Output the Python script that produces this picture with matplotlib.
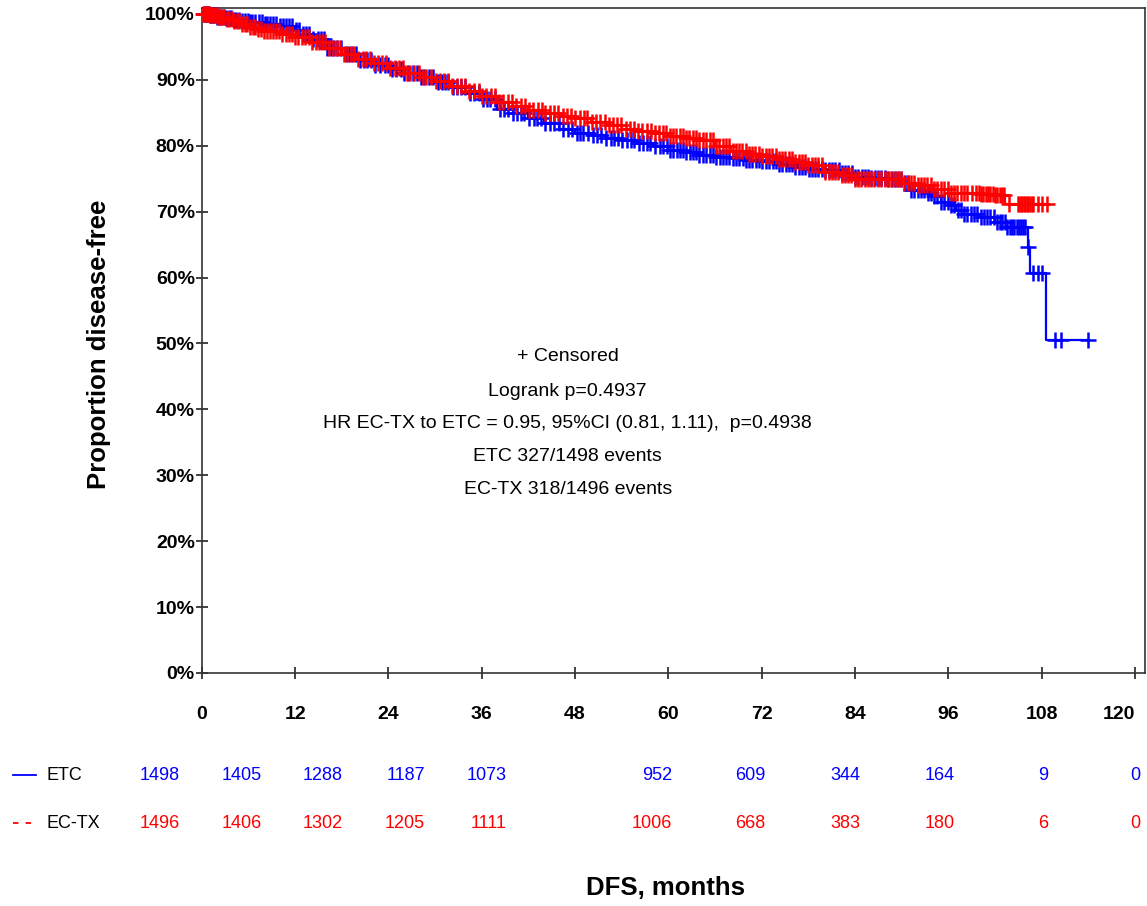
#  IMPORTS
# --------------------------------------------------------------
import numpy as np
import matplotlib
matplotlib.use("Agg")
import matplotlib.pyplot as plt

plt.rcParams['font.family'] = ['Liberation Sans', 'DejaVu Sans']

# ---------------------
#  DATA (months, % disease-free)
# ETC arm (blue)
etc_t = [0, 1, 2, 3, 4, 5, 6, 8, 10, 12, 13, 14, 16, 18, 20, 22, 24, 26, 28, 30,
         32, 34, 36, 38, 40, 42, 44, 46, 48, 50, 52, 54, 56, 58, 60, 62, 64, 66,
         68, 70, 72, 74, 76, 78, 80, 82, 84, 86, 88, 90, 91, 93, 94, 95, 96, 97,
         98, 100, 102, 103.5, 106.2, 106.5, 108.6]
etc_s = [100, 99.8, 99.6, 99.4, 99.1, 98.9, 98.7, 98.4, 98.1, 97.6, 97.0, 96.2,
         94.8, 93.9, 93.0, 92.3, 91.7, 91.0, 90.4, 89.7, 88.9, 88.0, 87.1, 85.6,
         84.9, 84.2, 83.5, 82.6, 82.0, 81.6, 81.2, 80.8, 80.4, 79.9, 79.4, 79.0,
         78.6, 78.3, 78.1, 77.9, 77.7, 77.3, 76.8, 76.4, 76.3, 75.8, 75.3, 75.1,
         75.0, 74.3, 73.3, 72.9, 72.4, 71.5, 71.0, 70.2, 69.6, 69.2, 68.5, 67.7,
         64.7, 60.7, 50.5]
etc_cens = [0.3, 0.6, 0.9, 1.2, 1.6, 2.0, 2.5, 3.1, 3.8, 4.4, 5.2, 5.9, 6.5, 7.3,
            8.1, 8.8, 9.6, 10.5, 11.2, 12.1, 13.0, 13.8, 14.9, 15.7, 16.6, 17.4,
            18.5, 19.3, 20.4, 21.2, 22.3, 23.5, 24.4, 25.6, 26.5, 27.7, 28.6,
            29.8, 30.9, 31.7, 32.8, 33.9, 35.0, 36.2, 37.1, 38.3, 39.4, 40.6,
            41.5, 42.7, 43.6, 44.8, 45.9, 47.1, 48.2, 49.0, 50.3, 51.4, 52.6,
            53.5, 54.7, 55.6, 56.8, 57.7, 58.9, 59.8, 60.6, 61.5, 62.3, 63.2,
            64.0, 64.9, 65.7, 66.6, 67.4, 68.3, 69.1, 70.0, 70.8, 71.7, 72.5,
            73.4, 74.2, 75.1, 75.9, 76.8, 77.6, 78.5, 79.3, 80.2, 81.0, 81.9,
            82.7, 83.6, 84.4, 85.3, 86.1, 87.0, 87.8, 88.7, 89.5, 90.4, 91.2,
            92.1, 92.9, 93.8, 94.6, 95.5, 96.3, 97.2, 98.0, 98.9, 99.7, 100.6,
            101.4, 102.3, 102.9, 103.6, 104.2, 104.8, 105.3, 105.8, 106.3,
            106.9, 107.5, 108.1, 109.7, 110.5, 113.9]
etc_cens_more = [0.45, 0.75, 1.05, 1.4, 1.8, 2.25, 2.8, 3.45, 4.1, 4.8, 5.55, 6.2,
                 6.9, 7.7, 8.45, 9.2, 10.05, 10.85, 11.65, 12.55, 13.4, 14.35,
                 15.3, 16.15, 17.0, 17.95, 18.9, 19.85, 20.8, 21.75, 22.9, 23.95,
                 25.0, 26.05, 27.1, 28.15, 29.2, 30.35, 31.3, 32.25, 33.35, 34.45,
                 35.6, 36.65, 37.7, 38.85, 40.0, 41.05, 42.1, 43.15, 44.2, 45.35,
                 46.5, 47.65, 48.6, 49.65, 50.85, 52.0, 53.05, 54.1, 55.15, 56.2,
                 57.25, 58.3, 59.35, 60.2, 61.05, 61.9, 62.75, 63.6, 64.45, 65.3,
                 66.15, 67.0, 67.85, 68.7, 69.55, 70.4, 71.25, 72.1, 72.95, 73.8,
                 74.65, 75.5, 76.35, 77.2, 78.05, 78.9, 79.75, 80.6, 81.45, 82.3,
                 83.15, 84.0, 84.85, 85.7, 86.55, 87.4, 88.25, 89.1, 89.95, 90.8,
                 91.65, 92.5, 93.35, 94.2, 95.05, 95.9, 96.75, 97.6, 98.45, 99.3,
                 100.15, 101.0, 101.85, 102.6, 103.25, 103.9, 104.5, 105.05, 105.55]

# EC-TX arm (red)
ectx_t = [0, 1, 2, 3, 4, 5, 6, 7, 8, 10, 12, 14, 16, 18, 20, 22, 24, 26, 28, 30,
          32, 34, 36, 38, 40, 42, 44, 46, 48, 50, 52, 54, 56, 58, 60, 62, 64, 66,
          68, 70, 72, 74, 76, 78, 80, 82, 84, 86, 88, 90, 92, 94, 96, 100, 102,
          103.3]
ectx_s = [100, 99.8, 99.5, 99.2, 98.9, 98.4, 98.0, 97.7, 97.4, 97.0, 96.5, 95.8,
          94.8, 93.9, 93.2, 92.5, 91.8, 91.1, 90.4, 89.8, 89.1, 88.3, 87.5, 86.6,
          86.0, 85.4, 84.9, 84.5, 84.2, 83.6, 83.1, 82.6, 82.2, 81.9, 81.5, 81.2,
          80.8, 80.0, 79.2, 78.7, 78.4, 78.0, 77.6, 77.1, 76.0, 75.5, 75.0, 74.9,
          74.9, 74.4, 74.0, 73.5, 72.8, 72.7, 72.5, 71.2]
ectx_cens = [0.1, 0.5, 0.8, 1.1, 1.5, 1.9, 2.4, 2.9, 3.5, 4.2, 4.8, 5.5, 6.2, 6.9,
             7.6, 8.4, 9.1, 9.9, 10.8, 11.6, 12.4, 13.3, 14.2, 15.1, 15.9, 16.9,
             17.8, 18.7, 19.6, 20.7, 21.6, 22.6, 23.7, 24.8, 25.9, 26.8, 27.9,
             28.9, 30.1, 31.2, 32.2, 33.4, 34.4, 35.6, 36.6, 37.7, 38.8, 39.9,
             41.0, 42.1, 43.2, 44.2, 45.3, 46.4, 47.5, 48.6, 49.6, 50.7, 51.8,
             52.9, 53.9, 55.1, 56.1, 57.2, 58.3, 59.3, 60.2, 61.0, 61.9, 62.7,
             63.6, 64.4, 65.3, 66.1, 67.0, 67.8, 68.7, 69.5, 70.4, 71.2, 72.1,
             72.9, 73.8, 74.6, 75.5, 76.3, 77.2, 78.0, 78.9, 79.7, 80.6, 81.4,
             82.3, 83.1, 84.0, 84.8, 85.7, 86.5, 87.4, 88.2, 89.1, 89.9, 90.8,
             91.6, 92.5, 93.3, 94.2, 95.0, 95.9, 96.7, 97.6, 98.4, 99.1, 99.5,
             99.9, 100.5, 101.1, 101.7, 102.3, 102.9, 103.8, 104.9, 105.3, 105.7,
             106.1, 106.5, 106.9, 107.5, 108.0, 108.7]
ectx_cens_more = [0.3, 0.65, 0.95, 1.3, 1.7, 2.15, 2.65, 3.2, 3.85, 4.5, 5.15, 5.85,
                  6.55, 7.25, 8.0, 8.75, 9.5, 10.35, 11.2, 12.0, 12.85, 13.75,
                  14.65, 15.5, 16.4, 17.35, 18.25, 19.15, 20.15, 21.15, 22.1,
                  23.15, 24.25, 25.35, 26.35, 27.35, 28.4, 29.5, 30.65, 31.7,
                  32.8, 33.9, 35.0, 36.1, 37.15, 38.25, 39.35, 40.45, 41.55,
                  42.65, 43.7, 44.75, 45.85, 46.95, 48.05, 49.1, 50.15, 51.25,
                  52.35, 53.4, 54.5, 55.6, 56.65, 57.75, 58.8, 59.75, 60.6, 61.45,
                  62.3, 63.15, 64.0, 64.85, 65.7, 66.55, 67.4, 68.25, 69.1, 69.95,
                  70.8, 71.65, 72.5, 73.35, 74.2, 75.05, 75.9, 76.75, 77.6, 78.45,
                  79.3, 80.15, 81.0, 81.85, 82.7, 83.55, 84.4, 85.25, 86.1, 86.95,
                  87.8, 88.65, 89.5, 90.35, 91.2, 92.05, 92.9, 93.75, 94.6, 95.45,
                  96.3, 97.15, 98.0, 100.2, 100.8, 101.4, 102.0, 102.6, 103.1,
                  105.1, 105.5, 105.9, 106.3, 106.7]

# number at risk
risk_months = [0, 12, 24, 36, 48, 60, 72, 84, 96, 108, 120]
etc_risk = [1498, 1405, 1288, 1187, 1073, 952, 609, 344, 164, 9, 0]
ectx_risk = [1496, 1406, 1302, 1205, 1111, 1006, 668, 383, 180, 6, 0]

notes = ["+ Censored",
         "Logrank p=0.4937",
         "HR EC-TX to ETC = 0.95, 95%CI (0.81, 1.11),  p=0.4938",
         "ETC 327/1498 events",
         "EC-TX 318/1496 events"]

BLUE = '#0000ff'
RED = '#ff0000'


def km_curve(ax, t, s, cens, color):
    t = np.array(t, dtype=float)
    s = np.array(s, dtype=float)
    cens = np.sort(np.array(cens, dtype=float))
    end = cens.max()
    ax.step(np.append(t, end), np.append(s, s[-1]), where='post',
            color=color, lw=1.6, clip_on=False, zorder=3)
    # censor marks sit on the curve
    idx = np.searchsorted(t, cens, side='right') - 1
    ax.plot(cens, s[idx], ls='none', marker='+', ms=11, mew=1.8,
            color=color, clip_on=False, zorder=3)


# ----------------------------------------
#  figure
fig = plt.figure(figsize=(11.47, 9.06), dpi=100)
ax = fig.add_axes([0.1759, 0.2572, 0.8224, 0.734])

km_curve(ax, etc_t, etc_s, etc_cens + etc_cens_more, BLUE)
km_curve(ax, ectx_t, ectx_s, ectx_cens + ectx_cens_more, RED)

ax.set_xlim(0, 121.3)
ax.set_ylim(0, 100.9)
ax.set_xticks(risk_months)
ax.set_yticks(np.arange(0, 101, 10))
ax.set_yticklabels([f'{v}%' for v in range(0, 101, 10)])
ax.tick_params(axis='both', direction='inout', length=8, width=1.2,
               labelsize=14, colors='#222222')
ax.tick_params(axis='x', pad=20)
ax.tick_params(axis='y', pad=1)
for lab in ax.get_xticklabels() + ax.get_yticklabels():
    lab.set_fontweight('bold')
    lab.set_color('black')
# last x label would run off the edge
ax.get_xticklabels()[-1].set_horizontalalignment('right')
for sp in ax.spines.values():
    sp.set_linewidth(1.2)
    sp.set_color('#333333')

# stats text in the middle
note_y = [0.4756, 0.4230, 0.3759, 0.3253, 0.2752]
for txt, yy in zip(notes, note_y):
    ax.text(0.388, yy, txt, transform=ax.transAxes, ha='center', va='center',
            fontsize=14)

# axis titles
fig.text(99 / 1147, 1 - 344 / 906, 'Proportion disease-free', rotation=90,
         ha='center', va='center', fontsize=18.5, fontweight='bold')
fig.text(666 / 1147, 1 - 888 / 906, 'DFS, months', ha='center', va='center',
         fontsize=18.5, fontweight='bold')

# number at risk table (right edges of the columns, px)
col_right = [180, 262, 343, 425, 507, 672, 765, 860, 955, 1048, 1140]
rows = [(etc_risk, 'ETC', BLUE, 775, '-'), (ectx_risk, 'EC-TX', RED, 823, (0, (3, 4)))]
for vals, name, col, ypx, ls in rows:
    yf = 1 - ypx / 906
    for v, xr in zip(vals, col_right):
        fig.text(xr / 1147, yf, str(v), ha='right', va='center',
                 fontsize=13, color=col)
    fig.add_artist(plt.Line2D([13 / 1147, 36 / 1147], [yf, yf], color=col,
                              lw=1.3, ls=ls))
    fig.text(46 / 1147, yf, name, ha='left', va='center', fontsize=13)

fig.savefig('out.png', dpi=100)
